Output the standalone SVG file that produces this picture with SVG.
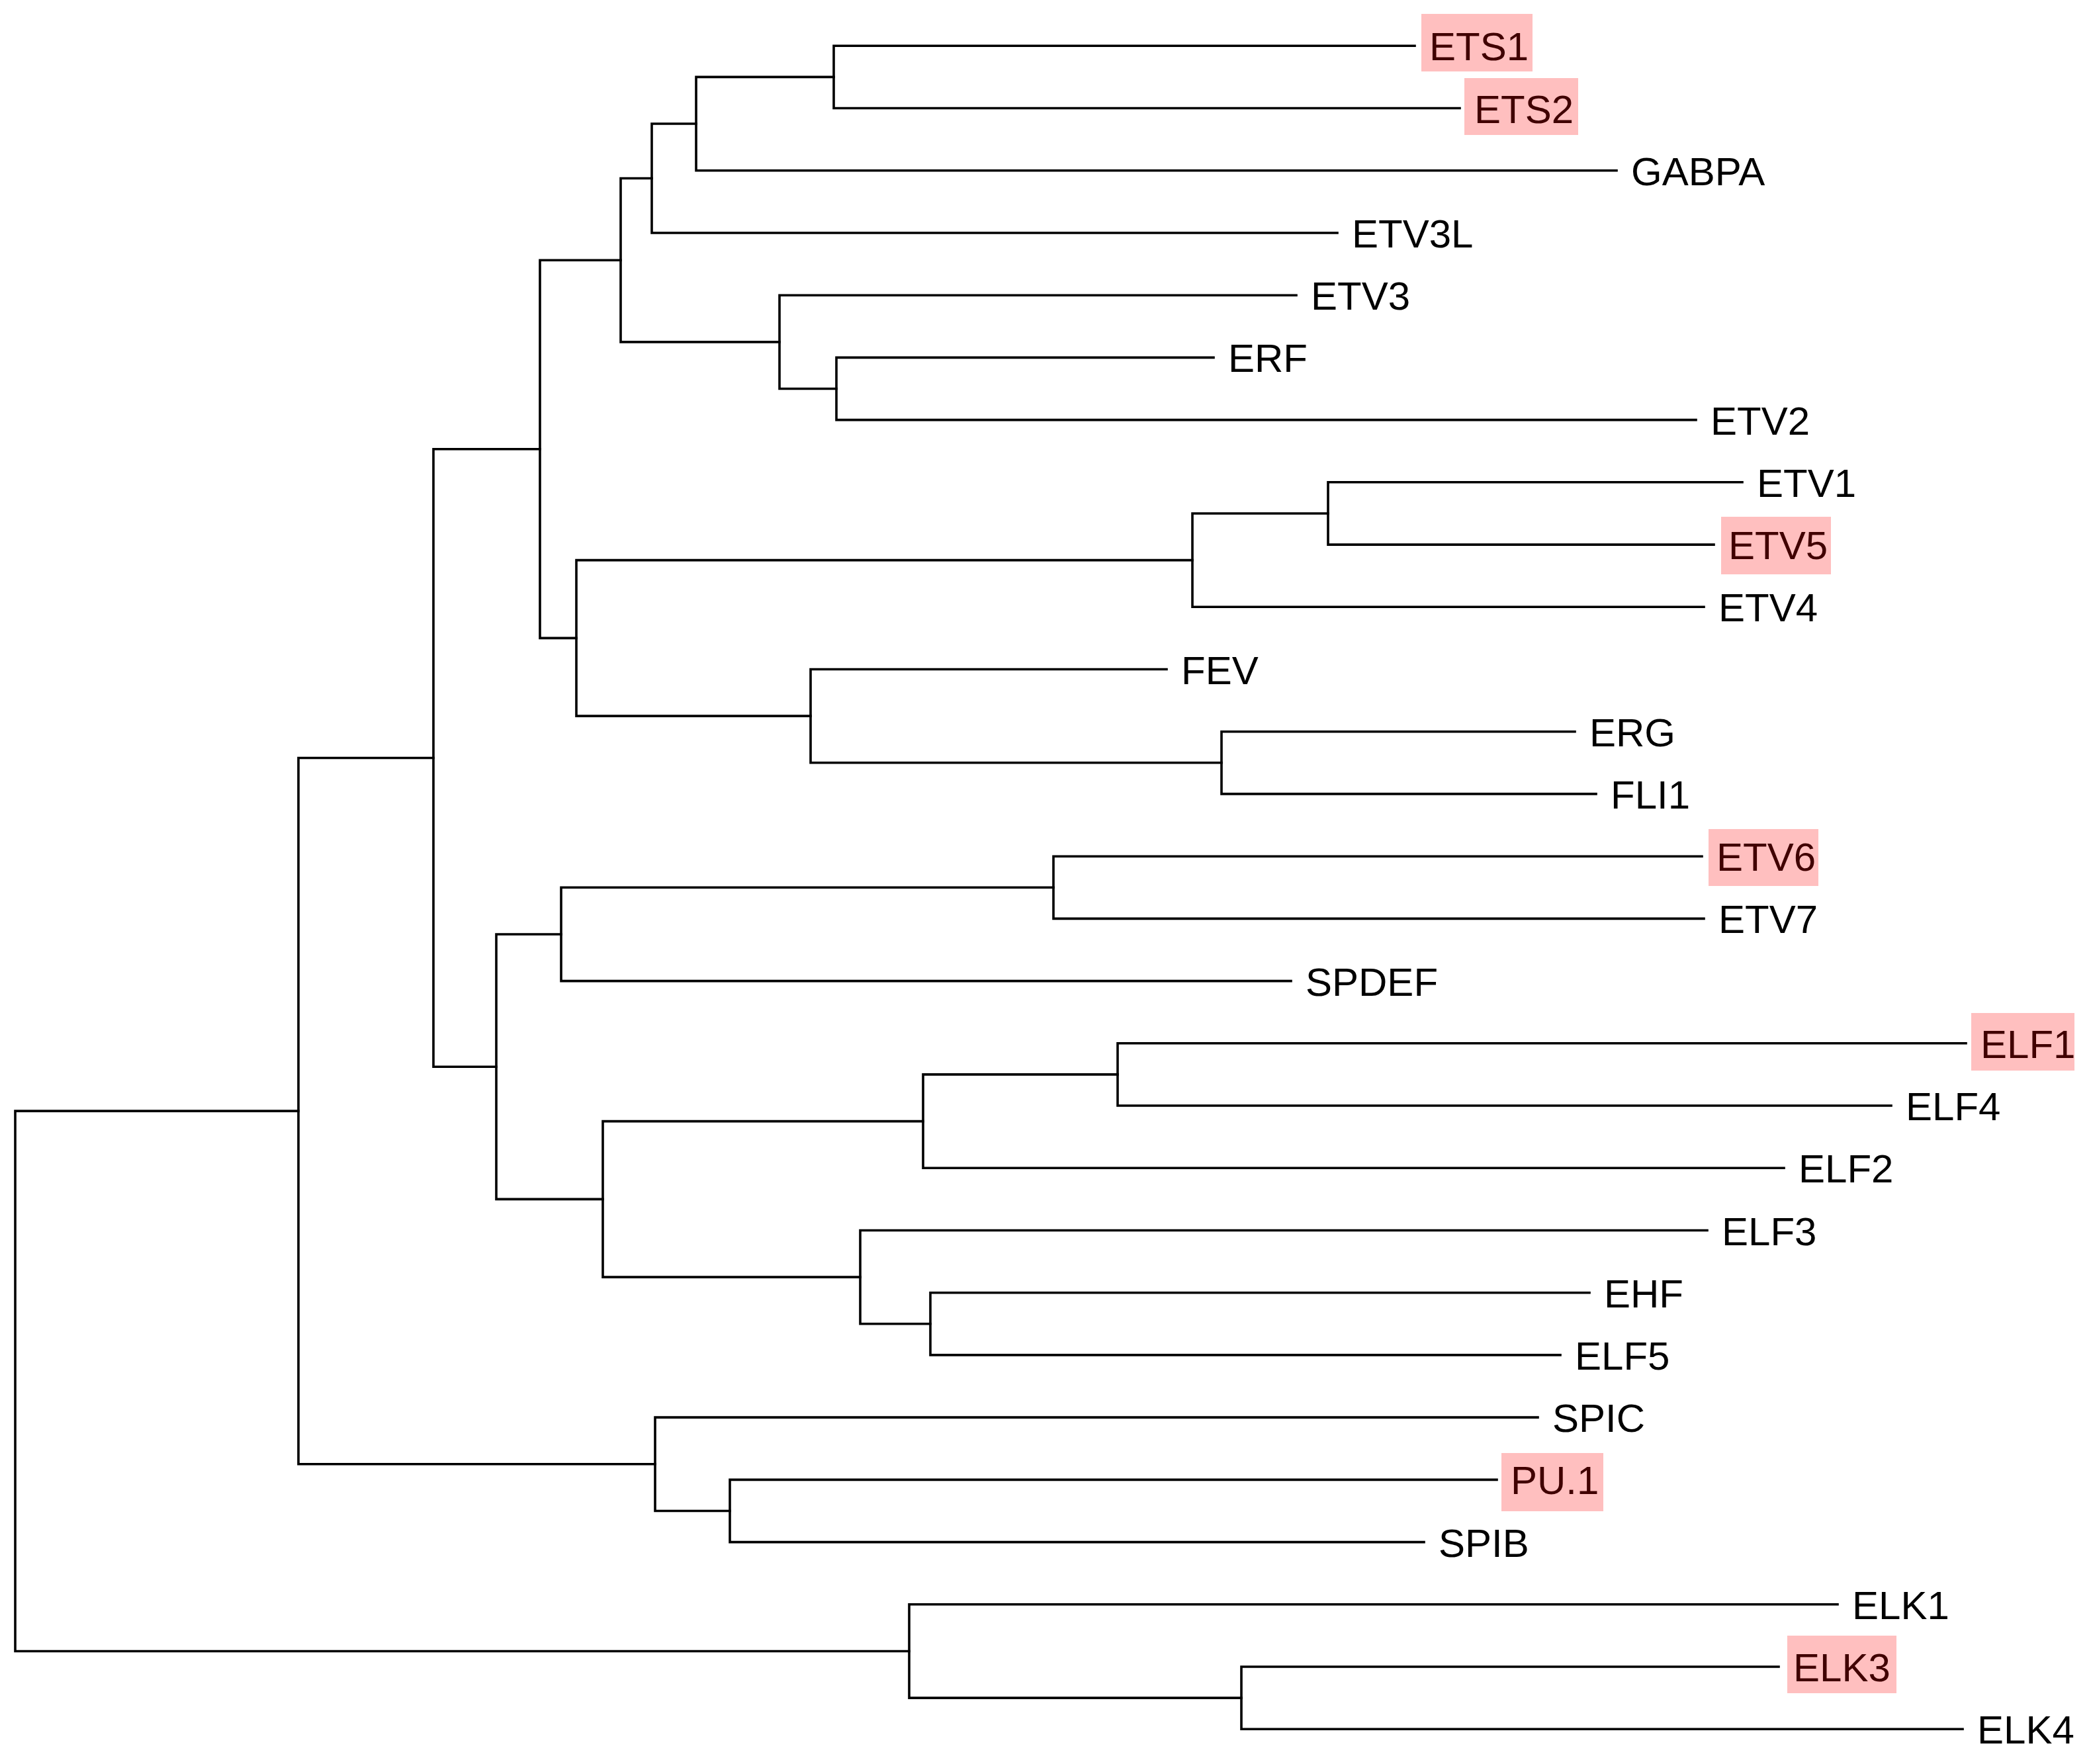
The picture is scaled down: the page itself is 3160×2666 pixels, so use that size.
<svg xmlns="http://www.w3.org/2000/svg" width="3160" height="2666" viewBox="0 0 3160 2666">
<style>
.br{fill:none;stroke:#000;stroke-width:3.6;stroke-linejoin:miter;stroke-linecap:square}
.lb{font-family:"Liberation Sans",Arial,sans-serif;font-size:60px;fill:#000}
.hl{fill:#ff0000;fill-opacity:0.25}
</style>
<rect width="3160" height="2666" fill="#fff"/>
<g id="connectors">
<path class="br" d="M451,1679.15 H23 V2495.45 H1374"/>
<path class="br" d="M655,1145.5 H451 V2212.8 H990"/>
<path class="br" d="M816,678.8 H655 V1612.2 H750"/>
<path class="br" d="M938,393.2 H816 V964.4 H871"/>
<path class="br" d="M985,269.5 H938 V516.85 H1178"/>
<path class="br" d="M1052,187.05 H985 V352 H2021"/>
<path class="br" d="M1260,116.4 H1052 V257.7 H2443"/>
<path class="br" d="M2138,69.3 H1260 V163.5 H2206"/>
<path class="br" d="M1959,446.2 H1178 V587.5 H1264"/>
<path class="br" d="M1834,540.4 H1264 V634.6 H2563"/>
<path class="br" d="M1802,846.6 H871 V1082.15 H1225"/>
<path class="br" d="M2007,775.95 H1802 V917.3 H2575"/>
<path class="br" d="M2633,728.8 H2007 V823.1 H2590"/>
<path class="br" d="M1763,1011.5 H1225 V1152.8 H1846"/>
<path class="br" d="M2380,1105.7 H1846 V1199.9 H2412"/>
<path class="br" d="M848,1411.95 H750 V1812.4 H911"/>
<path class="br" d="M1592,1341.3 H848 V1482.6 H1951"/>
<path class="br" d="M2572,1294.2 H1592 V1388.4 H2575"/>
<path class="br" d="M1395,1694.6 H911 V1930.15 H1300"/>
<path class="br" d="M1689,1623.9 H1395 V1765.3 H2696"/>
<path class="br" d="M2971,1576.8 H1689 V1671 H2858"/>
<path class="br" d="M2580,1859.5 H1300 V2000.8 H1406"/>
<path class="br" d="M2402,1953.7 H1406 V2047.9 H2358"/>
<path class="br" d="M2324,2142.1 H990 V2283.5 H1103"/>
<path class="br" d="M2262,2236.4 H1103 V2330.6 H2152"/>
<path class="br" d="M2777,2424.8 H1374 V2566.1 H1876"/>
<path class="br" d="M2688,2519 H1876 V2613.2 H2966"/>
</g>
<g id="ETS1"><text class="lb" x="2160" y="91.3">ETS1</text><rect class="hl" x="2148" y="21" width="168" height="87"/></g>
<g id="ETS2"><text class="lb" x="2228" y="185.5">ETS2</text><rect class="hl" x="2213" y="118" width="172" height="86"/></g>
<g id="GABPA"><text class="lb" x="2465" y="279.7">GABPA</text></g>
<g id="ETV3L"><text class="lb" x="2043" y="374">ETV3L</text></g>
<g id="ETV3"><text class="lb" x="1981" y="468.2">ETV3</text></g>
<g id="ERF"><text class="lb" x="1856" y="562.4">ERF</text></g>
<g id="ETV2"><text class="lb" x="2585" y="656.6">ETV2</text></g>
<g id="ETV1"><text class="lb" x="2655" y="750.8">ETV1</text></g>
<g id="ETV5"><text class="lb" x="2612" y="845.1">ETV5</text><rect class="hl" x="2601" y="781" width="166" height="87"/></g>
<g id="ETV4"><text class="lb" x="2597" y="939.3">ETV4</text></g>
<g id="FEV"><text class="lb" x="1785" y="1033.5">FEV</text></g>
<g id="ERG"><text class="lb" x="2402" y="1127.7">ERG</text></g>
<g id="FLI1"><text class="lb" x="2434" y="1221.9">FLI1</text></g>
<g id="ETV6"><text class="lb" x="2594" y="1316.2">ETV6</text><rect class="hl" x="2582" y="1253" width="166" height="86"/></g>
<g id="ETV7"><text class="lb" x="2597" y="1410.4">ETV7</text></g>
<g id="SPDEF"><text class="lb" x="1973" y="1504.6">SPDEF</text></g>
<g id="ELF1"><text class="lb" x="2993" y="1598.8">ELF1</text><rect class="hl" x="2979" y="1531" width="156" height="87"/></g>
<g id="ELF4"><text class="lb" x="2880" y="1693">ELF4</text></g>
<g id="ELF2"><text class="lb" x="2718" y="1787.3">ELF2</text></g>
<g id="ELF3"><text class="lb" x="2602" y="1881.5">ELF3</text></g>
<g id="EHF"><text class="lb" x="2424" y="1975.7">EHF</text></g>
<g id="ELF5"><text class="lb" x="2380" y="2069.9">ELF5</text></g>
<g id="SPIC"><text class="lb" x="2346" y="2164.1">SPIC</text></g>
<g id="PU1"><text class="lb" x="2283" y="2258.4">PU.1</text><rect class="hl" x="2269" y="2196" width="154" height="88"/></g>
<g id="SPIB"><text class="lb" x="2174" y="2352.6">SPIB</text></g>
<g id="ELK1"><text class="lb" x="2799" y="2446.8">ELK1</text></g>
<g id="ELK3"><text class="lb" x="2710" y="2541">ELK3</text><rect class="hl" x="2701" y="2472" width="165" height="87"/></g>
<g id="ELK4"><text class="lb" x="2988" y="2635.2">ELK4</text></g>
</svg>
